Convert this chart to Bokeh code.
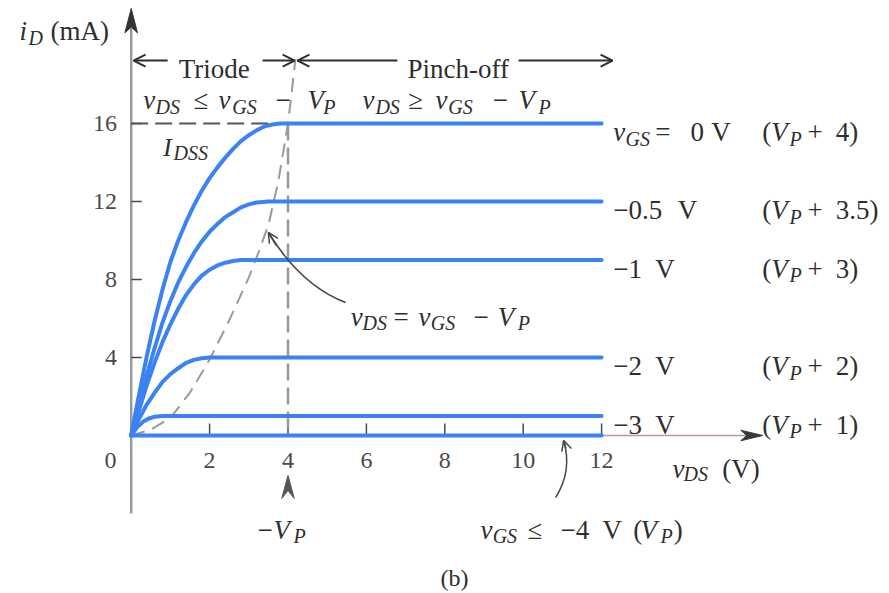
from bokeh.plotting import figure
from bokeh.models import Arrow, OpenHead, Range1d
from bokeh.embed import file_html
from bokeh.resources import INLINE
from bokeh.core.properties import value

# JFET drain characteristics: i_D (mA) against v_DS (V), one curve per v_GS
vds_0v = [0, 0.2, 0.4, 0.6, 0.8, 1.0, 1.2, 1.4, 1.6, 1.8, 2.0, 2.2, 2.4, 2.6, 2.8, 3.0, 3.2, 3.4, 3.6, 3.8, 4.0, 12]
id_0v = [0, 2.1, 4.1, 5.9, 7.5, 8.9, 10.0, 10.95, 11.8, 12.55, 13.2, 13.75, 14.25, 14.7, 15.1, 15.4, 15.65, 15.85, 15.95, 16.0, 16.0, 16.0]

vds_m05v = [0, 0.2, 0.4, 0.6, 0.8, 1.0, 1.2, 1.4, 1.6, 1.8, 2.0, 2.2, 2.4, 2.6, 2.8, 3.0, 3.2, 3.5, 12]
id_m05v = [0, 1.6, 3.1, 4.5, 5.8, 6.9, 7.85, 8.65, 9.35, 9.95, 10.45, 10.85, 11.2, 11.45, 11.7, 11.85, 11.95, 12.0, 12.0]

vds_m1v = [0, 0.2, 0.4, 0.6, 0.8, 1.0, 1.2, 1.4, 1.6, 1.8, 2.0, 2.2, 2.4, 2.6, 2.8, 3.0, 12]
id_m1v = [0, 1.3, 2.6, 3.75, 4.8, 5.7, 6.5, 7.2, 7.75, 8.2, 8.5, 8.72, 8.86, 8.95, 9.0, 9.0, 9.0]

vds_m2v = [0, 0.2, 0.4, 0.6, 0.8, 1.0, 1.2, 1.4, 1.6, 1.8, 2.0, 12]
id_m2v = [0, 0.85, 1.6, 2.2, 2.75, 3.15, 3.45, 3.72, 3.88, 3.96, 4.0, 4.0]

vds_m3v = [0, 0.15, 0.3, 0.45, 0.6, 0.8, 1.0, 12]
id_m3v = [0, 0.42, 0.7, 0.87, 0.96, 1.0, 1.0, 1.0]

vds_cutoff = [0, 12]
id_cutoff = [0, 0]

# boundary v_DS = v_GS - V_P between the triode and pinch-off regions
vds_edge = [0, 0.5, 1.0, 1.5, 2.0, 2.5, 3.0, 3.25, 3.5, 3.75, 4.0, 4.1, 4.19]
id_edge = [0, 0.3, 0.9, 2.2, 3.9, 5.9, 8.1, 9.4, 10.8, 13.0, 16.0, 17.7, 19.3]

i_dss = 16
v_pinch = 4

x_ticks = [2, 4, 6, 8, 10, 12]
x_tick_labels = ["2", "4", "6", "8", "10", "12"]
y_ticks = [4, 8, 12, 16]
y_tick_labels = ["4", "8", "12", "16"]

curve_levels = [16, 12, 9, 4, 1]
vgs_labels = ["0", "\u22120.5", "\u22121", "\u22122", "\u22123"]
vp_offsets = ["4", "3.5", "3", "2", "1"]

BLUE = "#3b83f2"
INK = "#2e2e2e"
TICK_INK = "#4a4a4a"
FONT = value("Liberation Serif")
MAIN = 27
SUB = 20

p = figure(width=889, height=593,
           x_range=Range1d(-3.334, 19.344), y_range=Range1d(-8.103, 22.308),
           output_backend="svg", toolbar_location=None,
           x_axis_location=None, y_axis_location=None,
           min_border=0, min_border_left=0, min_border_right=0,
           min_border_top=0, min_border_bottom=0,
           outline_line_color=None, background_fill_color="white",
           border_fill_color="white")
for g in list(p.center):
    g.visible = False


def put(x, y, s, size=MAIN, style="normal", color=INK, align="left", baseline="alphabetic"):
    p.text(x=[x], y=[y], text=[s], text_font=FONT, text_font_size=f"{size}px",
           text_font_style=style, text_color=color, text_align=align,
           text_baseline=baseline)


def put_seq(y_main, y_sub, parts, main_size=MAIN, sub_size=SUB):
    """Roman ('r'), italic ('i') and italic subscript ('s') pieces on one line."""
    for x, s, kind in parts:
        if kind == "s":
            put(x, y_sub, s, size=sub_size, style="italic")
        elif kind == "i":
            put(x, y_main, s, size=main_size, style="italic")
        else:
            put(x, y_main, s, size=main_size)


def arrow(x0, y0, x1, y1, size=12, width=2, color=INK):
    p.add_layout(Arrow(end=OpenHead(size=size, line_color=color, line_width=width),
                       x_start=x0, y_start=y0, x_end=x1, y_end=y1,
                       line_color=color, line_width=width))


# axes
p.line([0, 0], [-4.0, 20.9], line_color="#9a9a9a", line_width=2.5)
p.patch([0, 0.16, 0, -0.16], [21.9, 20.65, 20.95, 20.65], fill_color="#333333", line_color="#333333")
p.line([0, 15.7], [0, 0], line_color="#b39a9a", line_width=1.5)
p.patch([16.11, 15.55, 15.7, 15.55], [0, 0.27, 0, -0.27], fill_color="#3a3a3a", line_color="#3a3a3a")
p.segment(x0=[0] * len(y_ticks), y0=y_ticks, x1=[0.27] * len(y_ticks), y1=y_ticks,
          line_color=TICK_INK, line_width=1.5)
p.segment(x0=x_ticks, y0=[0] * len(x_ticks), x1=x_ticks, y1=[0.62] * len(x_ticks),
          line_color=TICK_INK, line_width=1.5)

# tick labels
p.text(x=[-0.36] * len(y_ticks), y=y_ticks, text=y_tick_labels, text_font=FONT,
       text_font_size="24px", text_color=TICK_INK, text_align="right", text_baseline="middle")
p.text(x=x_ticks, y=[-1.28] * len(x_ticks), text=x_tick_labels, text_font=FONT,
       text_font_size="24px", text_color=TICK_INK, text_align="center", text_baseline="middle")
put(-0.53, -1.28, "0", size=24, color=TICK_INK, align="center", baseline="middle")

# dashed guides: I_DSS level, pinch-off voltage and the region boundary
p.line([0, v_pinch], [i_dss, i_dss], line_color="#555555", line_width=2, line_dash="17 7")
p.line([v_pinch, v_pinch], [i_dss, 0], line_color="#9a9a9a", line_width=2.5, line_dash="17 7")
p.line(vds_edge, id_edge, line_color="#9a9a9a", line_width=2, line_dash="14 8")

# characteristic curves
for xs, ys in [(vds_0v, id_0v), (vds_m05v, id_m05v), (vds_m1v, id_m1v),
               (vds_m2v, id_m2v), (vds_m3v, id_m3v), (vds_cutoff, id_cutoff)]:
    p.line(xs, ys, line_color=BLUE, line_width=4, line_cap="round", line_join="round")

# axis titles
put_seq(20.72, 20.41, [(-2.85, "i", "i"), (-2.62, "D", "s"), (-2.06, "(mA)", "r")])
put_seq(-1.74, -2.0, [(13.81, "v", "i"), (14.09, "DS", "s"), (15.08, "(V)", "r")])

# region banner
put(1.21, 18.82, "Triode")
put(7.05, 18.82, "Pinch-off")
arrow(0.93, 19.23, 0.06, 19.23)
arrow(3.35, 19.23, 4.17, 19.23)
arrow(6.79, 19.23, 4.24, 19.23)
arrow(9.88, 19.23, 12.28, 19.23)

put_seq(17.18, 16.87, [
    (0.31, "v", "i"), (0.62, "DS", "s"), (1.59, "\u2264", "r"), (2.23, "v", "i"),
    (2.58, "GS", "s"), (3.68, "\u2212", "r"), (4.50, "V", "i"), (4.90, "P", "s"),
    (5.90, "v", "i"), (6.23, "DS", "s"), (7.07, "\u2265", "r"), (7.76, "v", "i"),
    (8.09, "GS", "s"), (9.22, "\u2212", "r"), (9.88, "V", "i"), (10.39, "P", "s"),
])

put_seq(14.77, 14.51, [(0.82, "I", "i"), (1.08, "DSS", "s")], main_size=25)

# curve labels
for k, level in enumerate(curve_levels):
    yb, ys = level - 0.46, level - 0.77
    if k == 0:
        parts = [(12.30, "v", "i"), (12.61, "GS", "s"), (13.37, "=", "r"),
                 (14.27, vgs_labels[k], "r"), (14.80, "V", "r")]
    else:
        v_x = 13.94 if len(vgs_labels[k]) > 2 else 13.37
        parts = [(12.30, vgs_labels[k], "r"), (v_x, "V", "r")]
    parts += [(16.10, "(", "r"), (16.33, "V", "i"), (16.79, "P", "s"),
              (17.25, "+", "r"), (17.97, vp_offsets[k] + ")", "r")]
    put_seq(yb, ys, parts)

# boundary annotation with its curved pointer
put_seq(6.10, 5.79, [
    (5.60, "v", "i"), (5.90, "DS", "s"), (6.69, "=", "r"), (7.33, "v", "i"),
    (7.64, "GS", "s"), (8.73, "\u2212", "r"), (9.35, "V", "i"), (9.86, "P", "s"),
])
p.quadratic(x0=[5.47], y0=[6.82], x1=[3.50], y1=[10.41], cx=[4.33], cy=[7.69],
            line_color="#444444", line_width=1.5)
arrow(3.71, 9.73, 3.50, 10.41, size=10, width=1.5, color="#444444")

# -V_P marker under the axis
p.patch([4, 4.16, 4, 3.84], [-2.05, -3.23, -2.82, -3.23], fill_color="#555555", line_color="#555555")
put_seq(-4.87, -5.13, [(3.22, "\u2212", "r"), (3.63, "V", "i"), (4.14, "P", "s")])

# cut-off annotation
put_seq(-4.87, -5.13, [
    (8.91, "v", "i"), (9.22, "GS", "s"), (10.11, "\u2264", "r"), (10.95, "\u22124", "r"),
    (12.02, "V", "r"), (12.81, "(", "r"), (12.99, "V", "i"), (13.50, "P", "s"),
    (13.84, ")", "r"),
])
p.quadratic(x0=[10.83], y0=[-3.18], x1=[11.03], y1=[-0.26], cx=[11.26], cy=[-1.79],
            line_color="#444444", line_width=1.5)
arrow(11.09, -0.64, 11.03, -0.26, size=10, width=1.5, color="#444444")

put(7.89, -7.3, "(b)", size=24)

open("out.html", "w").write(file_html(p, INLINE))
